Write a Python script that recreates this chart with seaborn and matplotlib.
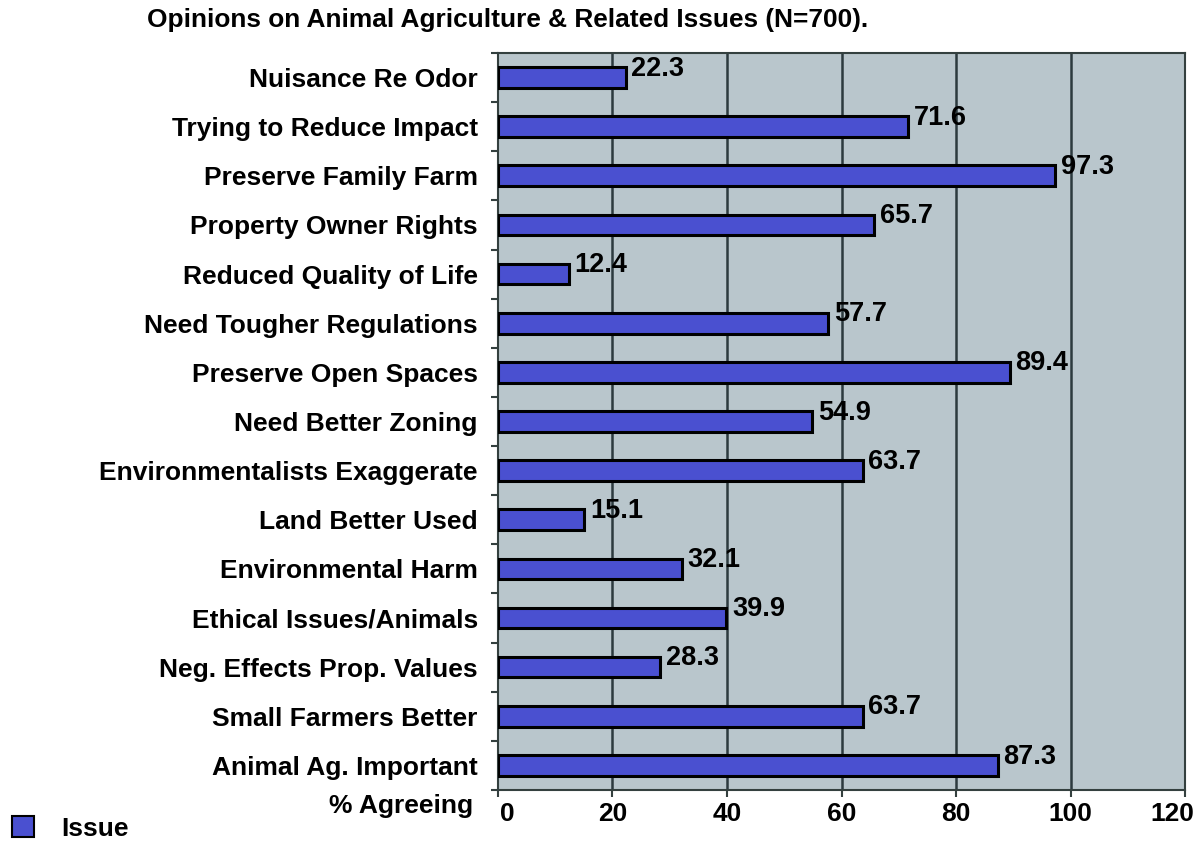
import numpy as np
import pandas as pd
import matplotlib.pyplot as plt
import matplotlib.transforms as mtransforms
import seaborn as sns
from matplotlib.patches import Patch
from matplotlib.ticker import FixedLocator

# data
issues = ['Nuisance Re Odor', 'Trying to Reduce Impact', 'Preserve Family Farm',
          'Property Owner Rights', 'Reduced Quality of Life', 'Need Tougher Regulations',
          'Preserve Open Spaces', 'Need Better Zoning', 'Environmentalists Exaggerate',
          'Land Better Used', 'Environmental Harm', 'Ethical Issues/Animals',
          'Neg. Effects Prop. Values', 'Small Farmers Better', 'Animal Ag. Important']
pct_agree = [22.3, 71.6, 97.3, 65.7, 12.4, 57.7, 89.4, 54.9, 63.7, 15.1, 32.1, 39.9, 28.3, 63.7, 87.3]
x_ticks = [0, 20, 40, 60, 80, 100, 120]

df = pd.DataFrame({'Issue': issues, '% Agreeing': pct_agree})

sns.set_style('white')
plt.rcParams['font.family'] = ['Liberation Sans', 'DejaVu Sans']
plt.rcParams['text.color'] = 'black'
plt.rcParams['xtick.labelcolor'] = 'black'
plt.rcParams['ytick.labelcolor'] = 'black'

bar_color = '#4a50d0'
bg_color = '#b9c6cc'
line_color = '#34403f'

fig = plt.figure(figsize=(12.02, 8.46), dpi=100)
ax = fig.add_axes([0.4143, 0.0662, 0.5716, 0.8712])
ax.set_facecolor(bg_color)

sns.barplot(data=df, y='Issue', x='% Agreeing', orient='h', color=bar_color,
            edgecolor='black', linewidth=2.2, width=0.42, saturation=1, ax=ax, zorder=3)

ax.set_xlim(0, 120)
ax.set_ylim(len(issues) - 0.5, -0.5)
ax.set_xticks(x_ticks)
ax.set_xticklabels([str(t) for t in x_ticks], fontsize=19, fontweight='bold')
ax.set_yticks(range(len(issues)))
ax.set_yticklabels(issues, fontsize=19, fontweight='bold')
ax.tick_params(axis='y', which='major', length=0, pad=14.5)
ax.yaxis.set_minor_locator(FixedLocator(np.arange(-0.5, len(issues), 1)))
ax.tick_params(axis='y', which='minor', length=5, width=1.5, color=line_color, left=True)
ax.tick_params(axis='x', which='major', length=5, width=1.5, color=line_color, pad=4, bottom=True)
ax.set_xlabel('')
ax.set_ylabel('')

# end tick labels sit a little inside the frame
xlabels = ax.get_xticklabels()
xlabels[0].set_transform(xlabels[0].get_transform() +
                         mtransforms.ScaledTranslation(9 / 100, 0, fig.dpi_scale_trans))
xlabels[-1].set_transform(xlabels[-1].get_transform() +
                          mtransforms.ScaledTranslation(-13 / 100, 0, fig.dpi_scale_trans))

for x in x_ticks[1:-1]:
    ax.axvline(x, color='#2c3a3e', lw=1.8, zorder=1)

for s in ['top', 'left', 'bottom', 'right']:
    ax.spines[s].set_visible(True)
    ax.spines[s].set_color(line_color)
    ax.spines[s].set_linewidth(1.5)

# value labels
for i, v in enumerate(pct_agree):
    ax.text(v + 1.0, i - 0.18, f'{v:.1f}', fontsize=19.5, fontweight='heavy',
            ha='left', va='center', color='black', zorder=4)

ax.text(-0.036, -0.022, '% Agreeing', transform=ax.transAxes, fontsize=19,
        fontweight='bold', ha='right', va='center')

fig.text(0.422, 0.976, 'Opinions on Animal Agriculture & Related Issues (N=700).',
         fontsize=18.9, fontweight='bold', ha='center', va='center')

fig.legend(handles=[Patch(facecolor=bar_color, edgecolor='black', linewidth=1.5)],
           labels=['Issue'], loc='lower left', bbox_to_anchor=(12 / 1202, 0.006),
           frameon=False, prop={'size': 19, 'weight': 'bold'},
           borderpad=0, borderaxespad=0,
           handlelength=0.85, handleheight=0.85, handletextpad=1.0)

fig.savefig('out.png', dpi=100)
